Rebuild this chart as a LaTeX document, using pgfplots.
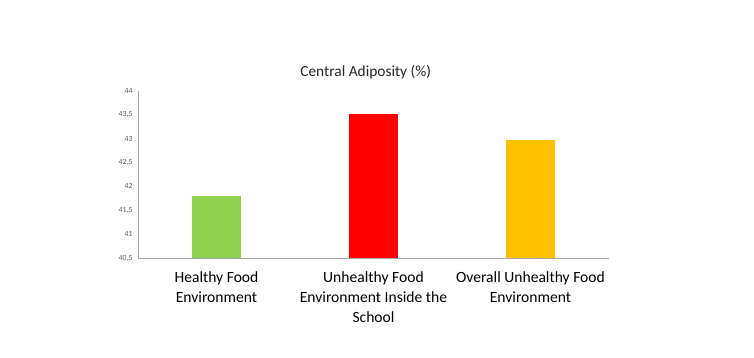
\documentclass[border=0pt]{standalone}
\usepackage{pgfplots}
\pgfplotsset{compat=1.18}
\usepackage{fontspec}
\setmainfont{Carlito}
\definecolor{cgreen}{RGB}{146,208,80}
\definecolor{cred}{RGB}{255,0,0}
\definecolor{corange}{RGB}{255,192,0}
\definecolor{axgray}{RGB}{166,166,166}
\definecolor{tickgray}{RGB}{89,89,89}
\begin{document}
\begin{tikzpicture}[x=1pt,y=1pt]
\path[use as bounding box] (0,0) rectangle (754,357);
\node[font=\fontsize{15.4}{17}\selectfont, text=black!85] at (365.7,285) {Central Adiposity (\%)};
\begin{axis}[
  at={(138pt,99pt)}, anchor=south west,
  scale only axis, width=471pt, height=167.3pt,
  xmin=-0.5, xmax=2.5, ymin=40.5, ymax=44,
  axis lines*=left,
  axis line style={axgray, line width=0.8pt},
  ytick={40.5,41,...,44},
  xtick={0,1,2},
  xticklabels={{Healthy Food\\Environment},{Unhealthy Food\\Environment Inside the\\School},{Overall Unhealthy Food\\Environment}},
  major tick length=0pt,
  /pgf/number format/use comma,
  /pgf/number format/assume math mode=true,
  yticklabel style={font=\fontsize{7.8}{9}\selectfont, text=tickgray, xshift=-2pt},
  xticklabel style={font=\fontsize{15.6}{20}\selectfont, align=center, yshift=-10pt},
  clip=false,
]
\addplot[ybar, bar width=49pt, fill=cgreen, draw=none, bar shift=0pt] coordinates {(0,41.80)};
\addplot[ybar, bar width=49pt, fill=cred, draw=none, bar shift=0pt] coordinates {(1,43.52)};
\addplot[ybar, bar width=49pt, fill=corange, draw=none, bar shift=0pt] coordinates {(2,42.97)};
\end{axis}
\end{tikzpicture}
\end{document}
